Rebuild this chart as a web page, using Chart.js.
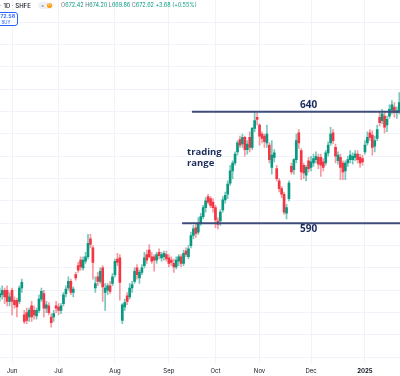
<!DOCTYPE html>
<html>
<head>
<meta charset="utf-8">
<script src="https://cdn.jsdelivr.net/npm/chart.js@4.4.1/dist/chart.umd.min.js"></script>
<style>
html,body{margin:0;padding:0;background:#fff;}
#wrap{position:relative;width:400px;height:376px;overflow:hidden;font-family:Inter,"Noto Sans",sans-serif;}
#c{position:absolute;left:0;top:0;}
.hd{position:absolute;top:2px;white-space:nowrap;line-height:7px;}
#sym{left:0px;font-size:6px;font-weight:500;color:#131722;}
#pill{left:38px;top:2px;width:15px;height:7px;border-radius:4px;background:#eef1f6;}
#pill .eq{position:absolute;left:3px;top:0;font-size:5px;line-height:7px;color:#787b86;}
#pill .dot{position:absolute;left:9px;top:1px;width:5px;height:5px;border-radius:50%;background:#ff9800;color:#fff;font-size:3.5px;line-height:5px;text-align:center;}
#ohlc{left:61px;font-size:5.5px;color:#089981;}
#ohlc .k{color:#6a6d78;}
#box{position:absolute;left:-6px;top:12px;width:22px;height:12px;border:1px solid #2962ff;border-radius:3px;background:#fff;color:#2962ff;text-align:center;font-size:5.4px;font-weight:600;line-height:6px;}
#box .b{font-size:4.3px;font-weight:400;}
</style>
</head>
<body>
<div id="wrap">
<canvas id="c" width="400" height="376"></canvas>
<div class="hd" id="sym">· 1D · SHFE</div>
<div class="hd" id="pill"><span class="eq">=</span><span class="dot">D</span></div>
<div class="hd" id="ohlc"><span class="k">O</span>672.42 <span class="k">H</span>674.20 <span class="k">L</span>669.86 <span class="k">C</span>672.62 +3.68 (+0.55%)</div>
<div id="box">672.58<br><span class="b">BUY</span></div>
</div>
<script>
// Trading days (categories), grouped by month
const tradingDays = [
  ['2024-05', [27,28,29,30,31]],
  ['2024-06', [3,4,5,6,7,11,12,13,14,17,18,19,20,21,24,25,26,27,28]],
  ['2024-07', [1,2,3,4,5,8,9,10,11,12,15,16,17,18,19,22,23,24,25,26,29,30,31]],
  ['2024-08', [1,2,5,6,7,8,9,12,13,14,15,16,19,20,21,22,23,26,27,28,29,30]],
  ['2024-09', [2,3,4,5,6,9,10,11,12,13,18,19,20,23,24,25,26,27,30]],
  ['2024-10', [8,9,10,11,14,15,16,17,18,21,22,23,24,25,28,29,30,31]],
  ['2024-11', [1,4,5,6,7,8,11,12,13,14,15,18,19,20,21,22,25,26,27,28,29]],
  ['2024-12', [2,3,4,5,6,9,10,11,12,13,16,17,18,19,20,23,24,25,26,27,30,31]],
  ['2025-01', [2,3,6,7,8,9,10,13,14,15,16,17,20,21,22]]
];
const monthLabels = ['', 'Jun', 'Jul', 'Aug', 'Sep', 'Oct', 'Nov', 'Dec', '2025'];

const open = [
557,558,560,560,555,560,555.5,555.5,555,561,
549,550,548,553,551,548.5,551,556,558.5,552,
553,548,548,553,552.5,551,554,558.5,561,564,
559,567,571,573.5,570,573,575,583,579,561,
566,564,570,559,560,562,563,567,574,574.5,
546.5,552.5,557.5,557,561,564,570,565.5,568,571,
576,578,575,575,573.5,577,574.5,575,576,574.5,
573.5,572,570.5,573,575,572,577.5,575,580,584.5,
588,586,590,593,597,602,601,599.5,597,591,
591,596,600.5,603,608,613.5,617,622,627.5,625.5,
628.5,623,628.5,624,632.5,637.5,634,630,629,626,
625,615,619.5,614.5,609,605.5,603,594.5,601,615.5,
614,618.5,630.5,622.5,616,611.5,618,615,617,618.5,
619.5,619.5,617.5,617,621.5,626,630.5,624,618,619.5,
617,613.5,617,618.5,618.5,619.5,621,619.5,619,622,
626,630.5,629.5,624.5,628,637.5,636,638,634,638,
640.5,642,639.5,640];
const high = [
561,562,561,562,559,561,557,556.5,562,565,
551,552,552,555,553,552,558,561,560,555,
554.5,549.5,551,555,554,554,559,562,566,565,
561.5,568,572.5,575,575,577,585,585,580,566,
568,570,571,563,563,564,567.5,574,576.5,576,
554,556,559,563,564,570,571.5,569,571.5,577,
578,580.5,577,576,577,578.5,577,577.5,577.5,576,
575,574,575,576,576,578,579,580,586,589,
590,592.5,594.5,598,601.5,603,602,601,598,592.5,
596,602,604,609,616,618,622,627,629,630,
629,627,631,633,640,639.5,634.5,631,630,634,
626,627,623,616,610,606.5,604,598.5,609,617,
619,630,632,623.5,617,616,619.5,620,621,622,
621,621,619,622.5,626.5,633,632,625.5,622,621,
618,618,620,622.5,621.5,622.5,622.5,621,620.5,627,
631,632,631.5,629,634,640,641,640,638,643,
645,644,642,648.5];
const low = [
555,556,554,553,553,549,552,548,554,559,
545,545,546,546,547,547,550,555,548,550,
549,543.5,546,550,549,549.5,553,557,560,558,
557,564.5,568,569,569,572,574,579,565,559,
562,563,555,551,558,558.5,562,566,571,555.5,
545,551,553.5,556,559,563,565,563,567,570,
572,574.5,572,568.5,572,574,573,573.5,573,570.5,
571,568,569.5,571,570.5,571,575,574,579,583,
583.5,585,589,592,595,598.5,597,595,588,587.5,
589,595,599,601,607,610,616,620.5,624,624,
620,621,622,623,631,634,625,626,624,624,
617,612,617.5,609,604,601.5,594,592,600,612,
612,617,623.5,609.5,610,609,613,613.5,615.5,617,
614.5,611,613.5,616,620,625,625.5,617,616.5,609.5,
609.5,609.5,615.5,617,616.5,618,617,615,616,621,
625,627,620.5,622,627,633.5,634.5,630.5,631,637,
639,637.5,637,639];
const close = [
558.5,560,557,555,557,555,553.5,552.5,561,563.5,
546,546.5,551,548,549,551,556,559.5,552,553.5,
550,545.5,549.5,552,551,553,558,560.5,564,559,
560.5,565.5,569,570.5,573.5,575,581,580.5,572.5,563,
564,568.5,561.5,561,562,559.5,566,573,572.5,563.5,
553.5,554.5,555,561,562.5,568.5,567,568,570,574.5,
573.5,575,573,573.5,576,575.5,576,576.5,574,572,
572.5,570.5,573.5,575,572,576.5,576,578.5,584.5,587.5,
585.5,589.5,593,597,600,599.5,598,597,591.5,589.5,
595,600.5,602.5,607.5,613.5,617,621,626,625,628.5,
623,625.5,624,632.5,636,636.5,629,628,626.5,630,
618.5,620.5,621.5,610,605.5,603,595,597,608,613,
618.5,627,626,613,612.5,615,614.5,617.5,619,620,
616.5,616,615,621.5,625,630,627,620,620.5,615,
613,617,618.5,620.5,620,621,618.5,617,617.5,625,
628.5,628.5,624,627,632,635,639,633,636.5,641,
643,639.5,640.5,644];

// Horizontal range levels and annotation texts (data units)
const levels = [640, 590];
const levelStart = [78.4, 74.4];
const levelLabels = [
  {text: '640', x: 126, y: 643.1, align: 'center'},
  {text: '590', x: 126, y: 587.4, align: 'center'}
];
const noteLines = [
  {text: 'trading', x: 76.4, y: 621.9, align: 'left'},
  {text: 'range', x: 76.4, y: 617.0, align: 'left'}
];

const dates = [];
const monthStartIdx = [];
const tickLabel = {};
tradingDays.forEach(([m, days], k) => {
  days.forEach((d, j) => {
    if (j === 0 && k > 0) { monthStartIdx.push(dates.length); tickLabel[dates.length] = monthLabels[k]; }
    dates.push(m + '-' + String(d).padStart(2, '0'));
  });
});

const UP = '#089981', DOWN = '#f23645';
const UPW = 'rgba(8,153,129,0.55)', DOWNW = 'rgba(242,54,69,0.5)';
const isUp = close.map((c, i) => c >= open[i]);
const NAVY_LINE = '#3f4c7c', NAVY_TEXT = '#1c2b5c';

const textPlugin = {
  id: 'rangeText',
  afterDatasetsDraw(chart) {
    const {ctx, scales: {x, y}} = chart;
    ctx.save();
    ctx.fillStyle = NAVY_TEXT;
    ctx.textBaseline = 'middle';
    ctx.font = 'bold 10px "Open Sans", sans-serif';
    levelLabels.forEach(l => { ctx.textAlign = l.align; ctx.fillText(l.text, x.getPixelForValue(l.x), y.getPixelForValue(l.y)); });
    ctx.font = 'bold 9.5px "Open Sans", sans-serif';
    noteLines.forEach(l => { ctx.textAlign = l.align; ctx.fillText(l.text, x.getPixelForValue(l.x), y.getPixelForValue(l.y)); });
    ctx.restore();
  }
};

const levelDatasets = levels.map((lv, k) => ({
  type: 'line',
  label: 'level ' + lv,
  data: [{x: levelStart[k], y: lv}, {x: dates.length, y: lv}],
  borderColor: NAVY_LINE,
  borderWidth: 2,
  pointRadius: 0,
  order: 0
}));

new Chart(document.getElementById('c'), {
  type: 'bar',
  data: {
    datasets: [
      {
        label: 'body',
        data: dates.map((d, i) => ({x: i, y: [open[i], close[i]]})),
        backgroundColor: isUp.map(u => u ? UP : DOWN),
        barThickness: 2,
        minBarLength: 1,
        grouped: false,
        borderWidth: 0,
        order: 1
      },
      {
        label: 'wick',
        data: dates.map((d, i) => ({x: i, y: [low[i], high[i]]})),
        backgroundColor: isUp.map(u => u ? UPW : DOWNW),
        barThickness: 1,
        grouped: false,
        borderWidth: 0,
        order: 2
      },
      ...levelDatasets
    ]
  },
  options: {
    responsive: false,
    animation: false,
    devicePixelRatio: 1,
    layout: {padding: {left: 0, right: 0, top: 0, bottom: 0}},
    plugins: {legend: {display: false}, tooltip: {enabled: false}},
    scales: {
      x: {
        type: 'linear',
        min: 0.1,
        max: 163.3,
        offset: false,
        grid: {color: '#f0f3fa', drawTicks: false, offset: false},
        border: {display: false},
        afterBuildTicks: s => { s.ticks = monthStartIdx.map(v => ({value: v})); },
        afterFit: s => { s.height = 13.2; },
        ticks: {
          autoSkip: false,
          maxRotation: 0,
          padding: 5,
          color: '#131722',
          font: c => ({size: 6, family: 'Inter, "Noto Sans", sans-serif', weight: (c.tick && tickLabel[c.tick.value] === '2025') ? 'bold' : 'normal'}),
          callback: v => tickLabel[v] || ''
        }
      },
      y: {
        min: 527.5,
        max: 690,
        position: 'right',
        grid: {color: '#f0f3fa', drawTicks: false},
        border: {display: false},
        afterBuildTicks: s => {
          const t = [];
          for (let v = 530; v <= 680; v += 10) t.push({value: v});
          s.ticks = t;
        },
        ticks: {display: false}
      }
    }
  },
  plugins: [textPlugin]
});
</script>
</body>
</html>
